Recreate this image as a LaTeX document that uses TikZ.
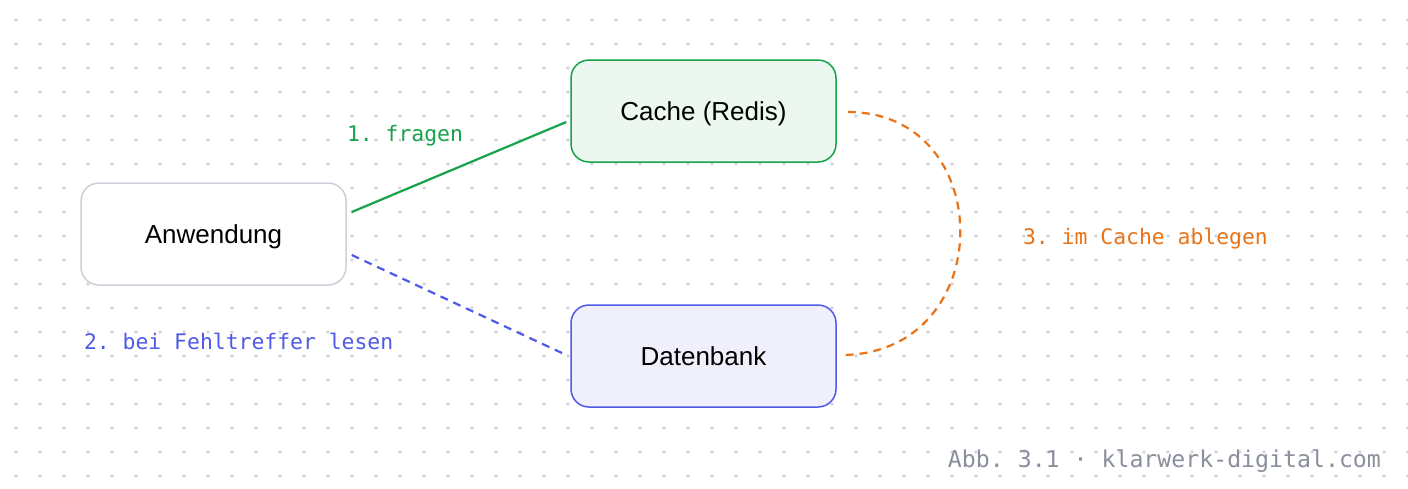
\documentclass[tikz,border=0pt]{standalone}
\usepackage{fontspec}
\setmainfont{Liberation Sans}
\setmonofont{DejaVu Sans Mono}
\begin{document}
\begin{tikzpicture}[x=0.5pt,y=-0.5pt,
  box/.style={draw,rounded corners=9pt,line width=0.75pt,minimum width=132.5pt,minimum height=51pt,font=\fontsize{13}{15}\selectfont},
  lbl/.style={font=\ttfamily\fontsize{10.7}{12}\selectfont},
  conn/.style={line width=1.1pt}]
\definecolor{gr}{HTML}{16A34A}\definecolor{grf}{HTML}{ECF8EF}
\definecolor{bl}{HTML}{4F5AE6}\definecolor{blf}{HTML}{EFF0FC}
\definecolor{gy}{HTML}{CBD0DA}\definecolor{og}{HTML}{EA7317}
\definecolor{dot}{HTML}{D4D6DC}\definecolor{ft}{HTML}{8A8F9C}
\useasboundingbox (0,0) rectangle (1408,488);
\fill[white] (0,0) rectangle (1408,488);
\foreach \i in {0,...,58}{\foreach \j in {0,...,19}{\fill[dot] (16+24*\i,20+24*\j) circle (0.9pt);}}
\node[box,draw=gy,fill=white,text depth=-1.5pt] (app) at (213.5,234) {Anwendung};
\node[box,draw=gr,fill=grf,text depth=-1.5pt] (cache) at (703.5,111) {Cache (Redis)};
\node[box,draw=bl,fill=blf,text depth=-1.5pt] (db) at (703.5,356) {Datenbank};
\coordinate (a1) at ([xshift=2.5pt,yshift=11pt]app.east);
\coordinate (a2) at ([xshift=2.5pt,yshift=-10.5pt]app.east);
\coordinate (c1) at ([xshift=-2pt,yshift=-5.5pt]cache.west);
\coordinate (d1) at ([xshift=-2pt,yshift=0.5pt]db.west);
\coordinate (c2) at ([xshift=5.5pt,yshift=-0.5pt]cache.east);
\coordinate (d2) at ([xshift=2pt,yshift=0.5pt]db.east);
\draw[conn,gr] (a1) -- (c1);
\draw[conn,bl,dash pattern=on 4pt off 3pt] (a2) -- (d1);
\draw[conn,og,dash pattern=on 4pt off 3pt] (c2) .. controls (999,112) and (999,355) .. (d2);
\node[lbl,text=gr] (l1) at (405,136) {1. fragen};
\node[lbl,text=bl,anchor=west] (l2) at (77,341) {2. bei Fehltreffer lesen};
\node[lbl,text=og,anchor=west] (l3) at (1016,239) {3. im Cache ablegen};
\node[lbl,text=ft,anchor=east,font=\ttfamily\fontsize{11.6}{13}\selectfont] (f) at (1388,461) {Abb. 3.1 · klarwerk-digital.com};
\end{tikzpicture}
\end{document}
